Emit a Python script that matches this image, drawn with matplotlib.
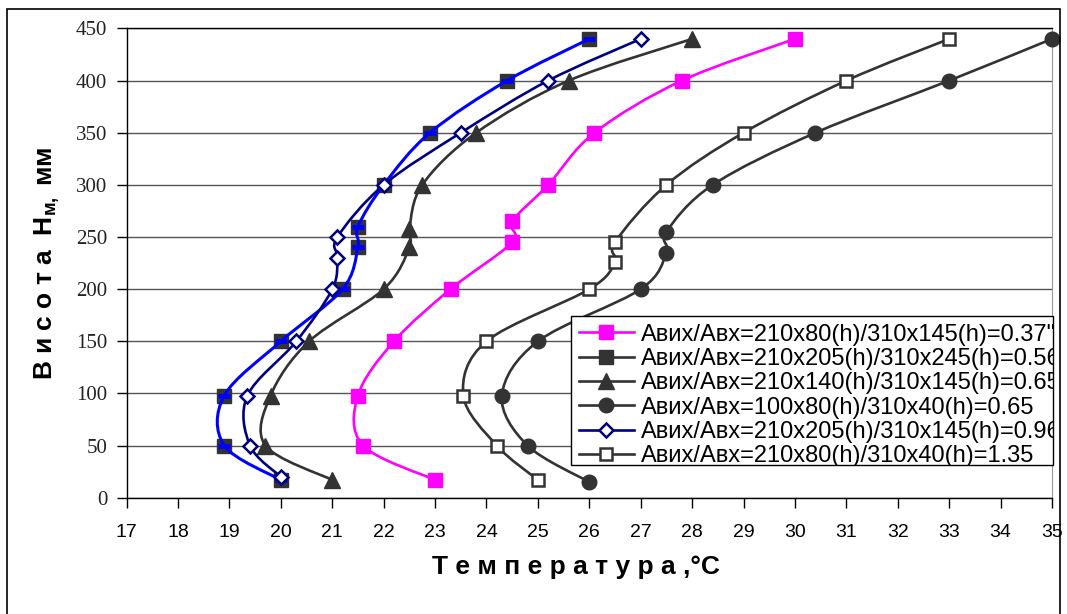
import matplotlib
matplotlib.use('Agg')
import matplotlib.pyplot as plt
from matplotlib.path import Path
from matplotlib.patches import PathPatch, Rectangle
from matplotlib.lines import Line2D
from matplotlib.transforms import Bbox, TransformedBbox

plt.rcParams['font.family'] = ['Liberation Sans', 'DejaVu Sans']
plt.rcParams['mathtext.fontset'] = 'custom'
plt.rcParams['mathtext.rm'] = 'Liberation Sans:bold'
plt.rcParams['mathtext.it'] = 'Liberation Sans:bold'
plt.rcParams['mathtext.bf'] = 'Liberation Sans:bold'

# data: temperature (C) against height (mm)
t_037 = [23.0, 21.6, 21.5, 22.2, 23.3, 24.5, 24.5, 25.2, 26.1, 27.8, 30.0]
h_037 = [17, 50, 98, 150, 200, 245, 265, 300, 350, 400, 440]
t_056 = [20.0, 18.9, 18.9, 20.0, 21.2, 21.5, 21.5, 22.0, 22.9, 24.4, 26.0]
h_056 = [17, 50, 98, 150, 200, 240, 260, 300, 350, 400, 440]
t_065a = [21.0, 19.7, 19.8, 20.55, 22.0, 22.5, 22.5, 22.75, 23.8, 25.6, 28.0]
h_065a = [17, 50, 98, 150, 200, 240, 258, 300, 350, 400, 440]
t_065b = [26.0, 24.8, 24.3, 25.0, 27.0, 27.5, 27.5, 28.4, 30.4, 33.0, 35.0]
h_065b = [15, 50, 98, 150, 200, 235, 255, 300, 350, 400, 440]
t_096 = [20.0, 19.4, 19.35, 20.3, 21.0, 21.1, 21.1, 22.0, 23.5, 25.2, 27.0]
h_096 = [20, 50, 98, 150, 200, 230, 250, 300, 350, 400, 440]
t_135 = [25.0, 24.2, 23.55, 24.0, 26.0, 26.5, 26.5, 27.5, 29.0, 31.0, 33.0]
h_135 = [17, 50, 98, 150, 200, 226, 245, 300, 350, 400, 440]

labels = ['Авих/Авх=210x80(h)/310x145(h)=0.37"',
          'Авих/Авх=210x205(h)/310x245(h)=0.56',
          'Авих/Авх=210x140(h)/310x145(h)=0.65',
          'Авих/Авх=100x80(h)/310x40(h)=0.65',
          'Авих/Авх=210x205(h)/310x145(h)=0.96',
          'Авих/Авх=210x80(h)/310x40(h)=1.35']

x_ticks = list(range(17, 36))
y_ticks = list(range(0, 451, 50))

DARK = '#333333'
BLUE = '#0000ff'
NAVY = '#000080'
MAG = '#ff00ff'


def smooth_path(xs, ys):
    # excel-like smoothed line as cubic bezier segments through the points
    pts = list(zip(xs, ys))
    n = len(pts)
    verts = [pts[0]]
    codes = [Path.MOVETO]
    for i in range(n - 1):
        p0 = pts[i - 1] if i > 0 else pts[i]
        p1 = pts[i]
        p2 = pts[i + 1]
        p3 = pts[i + 2] if i + 2 < n else pts[i + 1]
        c1 = (p1[0] + (p2[0] - p0[0]) / 6, p1[1] + (p2[1] - p0[1]) / 6)
        c2 = (p2[0] - (p3[0] - p1[0]) / 6, p2[1] - (p3[1] - p1[1]) / 6)
        verts += [c1, c2, p2]
        codes += [Path.CURVE4] * 3
    return Path(verts, codes)


fig = plt.figure(figsize=(10.67, 6.14), dpi=100)
ax = fig.add_axes([0.1187, 0.1894, 0.8672, 0.7642])

ax.set_xlim(17, 35)
ax.set_ylim(0, 450)
ax.set_xticks(x_ticks)
ax.set_yticks(y_ticks)
ax.grid(axis='y', color='#555555', lw=1.0)
ax.set_axisbelow(True)

series = [
    (t_037, h_037, MAG, dict(marker='s', ms=10, mfc=MAG, mec=MAG)),
    (t_056, h_056, BLUE, dict(marker='s', ms=10, mfc=DARK, mec=DARK)),
    (t_065a, h_065a, DARK, dict(marker='^', ms=11, mfc=DARK, mec=DARK)),
    (t_065b, h_065b, DARK, dict(marker='o', ms=10.5, mfc=DARK, mec=DARK)),
    (t_096, h_096, NAVY, dict(marker='D', ms=7, mfc='white', mec=NAVY, mew=1.8)),
    (t_135, h_135, DARK, dict(marker='s', ms=9, mfc='white', mec=DARK, mew=1.8)),
]

z = 3
for t, h, col, mk in series:
    if col == BLUE:
        # dark markers first, blue smoothed line and dash markers on top
        ax.plot(t, h, ls='none', zorder=z, clip_on=False, **mk)
        ax.add_patch(PathPatch(smooth_path(t, h), fill=False, ec=BLUE, lw=2.2, zorder=z + 0.1))
        ax.plot(t, h, ls='none', marker='_', ms=8, mew=3.5, color=BLUE, zorder=z + 0.2, clip_on=False)
    else:
        ax.add_patch(PathPatch(smooth_path(t, h), fill=False, ec=col, lw=1.9, zorder=z))
        ax.plot(t, h, ls='none', zorder=z + 0.1, clip_on=False, **mk)
    z += 0.5

for s in ['left', 'bottom', 'top']:
    ax.spines[s].set_color('black')
    ax.spines[s].set_linewidth(1.0)
ax.spines['right'].set_color('#999999')

ax.tick_params(axis='x', direction='out', length=7, width=1, pad=12, labelsize=14)
ax.tick_params(axis='y', direction='out', length=7, width=1, pad=7, labelsize=15)
for lab in ax.get_yticklabels():
    lab.set_fontfamily('Liberation Serif')
    lab.set_color('#222222')

fig.text(0.54, 0.076, 'Т е м п е р а т у р а ,°С', fontsize=19, fontweight='bold',
         ha='center', va='center')
fig.text(0.044, 0.572, 'В и с о т а  Н$_{\\mathrm{м,}}$ мм', fontsize=19, fontweight='bold',
         rotation=90, ha='center', va='center')

# legend: opaque box with texts clipped at its right edge
lx0, lx1 = 571 / 1067, 1053 / 1067
ly0, ly1 = 1 - 465 / 614, 1 - 316 / 614
box = Rectangle((lx0, ly0), lx1 - lx0, ly1 - ly0, transform=fig.transFigure,
                fc='white', ec='black', lw=1.0, zorder=8, clip_on=False)
ax.add_patch(box)

handles = []
for t, h, col, mk in series:
    lc = DARK if col == BLUE else col
    handles.append(Line2D([], [], color=lc, lw=1.9, **mk))
leg = ax.legend(handles, labels, loc='upper left', bbox_to_anchor=(lx0, ly1),
                bbox_transform=fig.transFigure, frameon=False, fontsize=17,
                borderaxespad=0, borderpad=0.32, handlelength=2.35, handletextpad=0.3,
                labelspacing=0.1)
leg.set_zorder(9)
clip = TransformedBbox(Bbox([[lx0, ly0], [lx1, ly1]]), fig.transFigure)
for txt in leg.get_texts():
    txt.set_clip_box(clip)
    txt.set_clip_on(True)

# outer chart border
fig.patches.append(Rectangle((7 / 1067, -0.05), 1053 / 1067, 1 - 9 / 614 + 0.05,
                             transform=fig.transFigure, fill=False, ec='black', lw=1.2))

fig.savefig('out.png', dpi=100)
